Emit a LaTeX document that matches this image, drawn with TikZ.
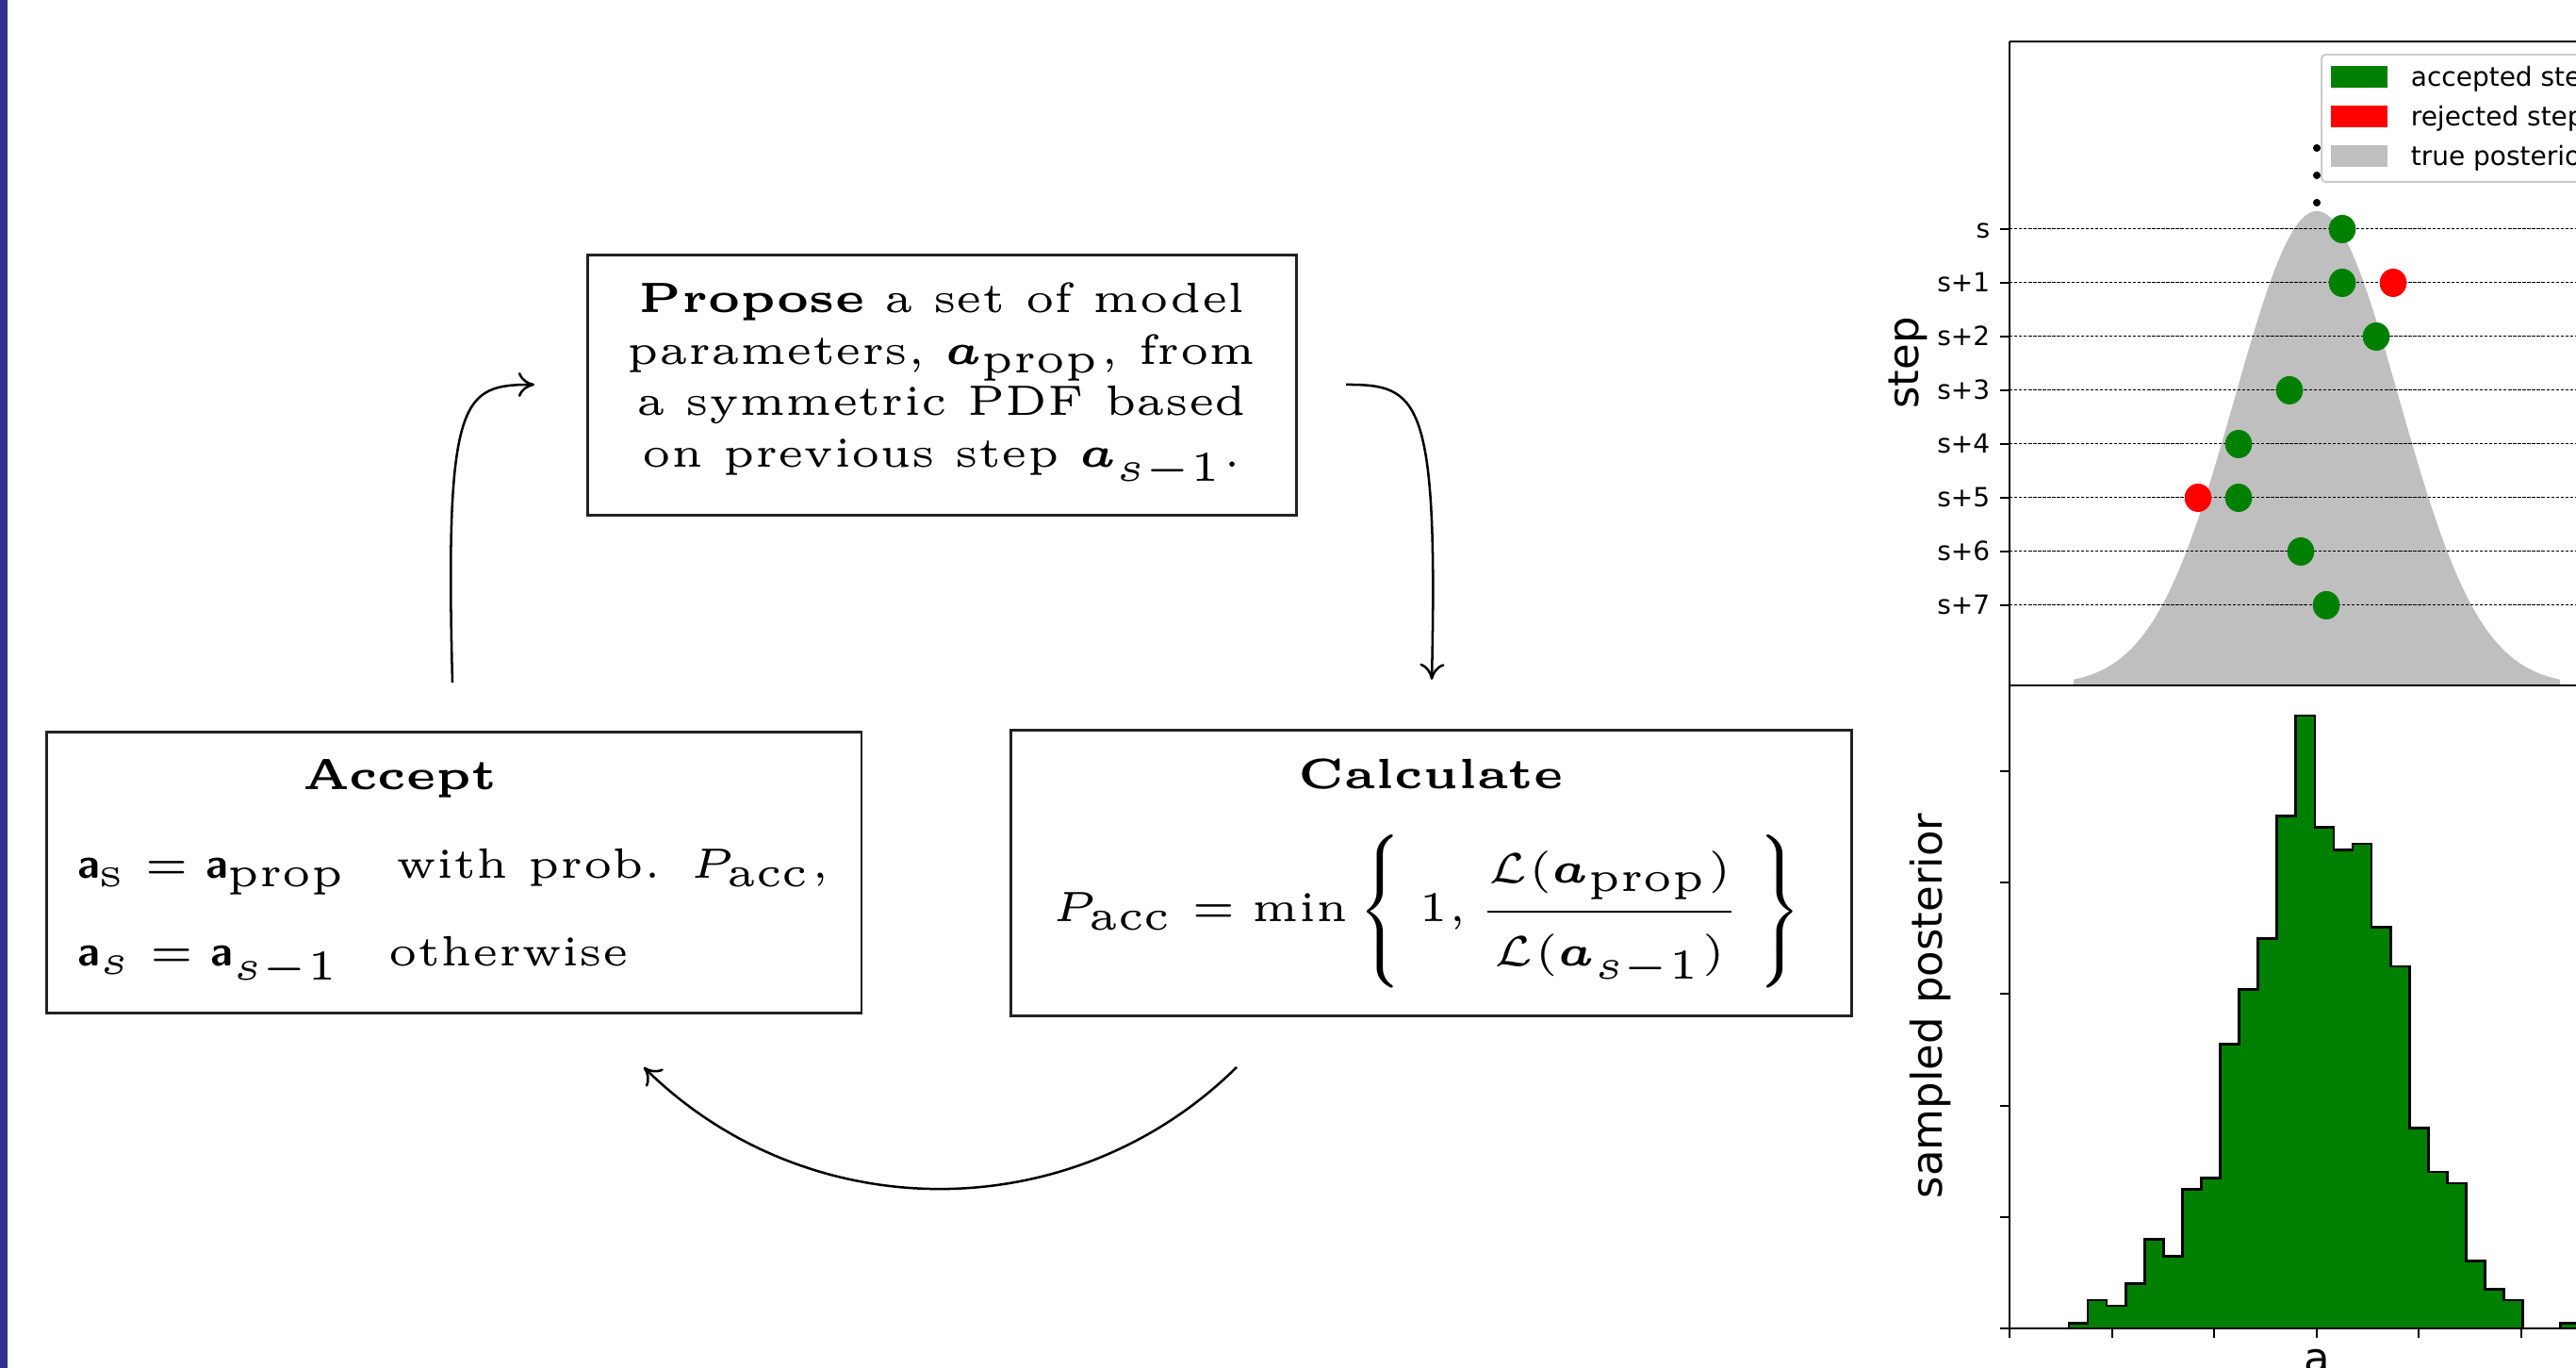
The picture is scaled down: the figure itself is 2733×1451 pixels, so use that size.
\documentclass[tikz,border=0pt]{standalone}
\usepackage{amsmath}
\usepackage{fontspec}
\newfontfamily\plotfont{DejaVu Sans}
\usetikzlibrary{arrows.meta}
\definecolor{barblue}{RGB}{46,49,146}
\definecolor{mplgreen}{HTML}{008000}
\definecolor{mplred}{HTML}{FF0000}
\definecolor{silvergray}{HTML}{BFBFBF}
\definecolor{legframe}{HTML}{CCCCCC}
\definecolor{boxline}{HTML}{222222}
\newcommand{\sfa}{\text{\sffamily\bfseries a}}
\tikzset{
  stage/.style={draw=boxline, line width=0.33pt, inner sep=0pt, outer sep=0pt},
  lmtext/.style={inner sep=0pt, font=\fontsize{5}{6}\selectfont},
  flow/.style={draw=black, line width=0.28pt, -{To[length=1.9pt,width=2.9pt]}},
  spine/.style={line width=0.22pt},
  tickmark/.style={line width=0.22pt},
  gridline/.style={line width=0.11pt, dash pattern=on 0.37pt off 0.19pt},
  ticklabel/.style={inner sep=0pt, font=\plotfont\fontsize{3.11}{3.7}\selectfont},
  axislabel/.style={inner sep=0pt, font=\plotfont\fontsize{5}{6}\selectfont},
  accdot/.style={fill=mplgreen},
  rejdot/.style={fill=mplred},
}
\begin{document}
\begin{tikzpicture}[x=0.11111pt, y=-0.11111pt]
\useasboundingbox (0,0) rectangle (2733,1451);
\fill[white] (0,0) rectangle (2733,1451);
\clip (0,0) rectangle (2733,1451);
\fill[barblue] (0,0) rectangle (8,1451);

% ---------------- boxes ----------------
\node[stage, minimum width=83.61pt, minimum height=30.63pt] (propose) at (999.25,408.85) {};
\node[stage, minimum width=96.11pt, minimum height=33.11pt] (accept) at (481.5,926) {};
\node[stage, minimum width=99.11pt, minimum height=33.67pt] (calc) at (1518,926.5) {};

\node[lmtext, anchor=base] (prop1) at (999,331.7) {\textbf{Propose} a set of model};
\node[lmtext, anchor=base] (prop2) at (999,386.7) {parameters, $\boldsymbol{a}_\mathrm{prop}$, from};
\node[lmtext, anchor=base] (prop3) at (999,440.7) {a symmetric PDF based};
\node[lmtext, anchor=base] (prop4) at (999,496) {on previous step $\boldsymbol{a}_{s-1}$.};

\node[lmtext, anchor=base] (acctitle) at (424.5,838) {\textbf{Accept}};
\node[lmtext, anchor=base west] (acc1) at (80.5,931.7) {$\sfa_\mathrm{s} = \sfa_\mathrm{prop}$\ \ \hspace{1pt}with prob.\ \ \hspace{-1.33pt}$P_\mathrm{acc}$,};
\node[lmtext, anchor=base west] (acc2) at (80.5,1025) {$\sfa_s = \sfa_{s-1}$\ \ \hspace{1pt}otherwise};

\node[lmtext, anchor=base] (calctitle) at (1518,836.7) {\textbf{Calculate}};
\node[lmtext, anchor=base] (calcformula) at (1514,978) {$\displaystyle P_\mathrm{acc} = \min\left\{\;1,\frac{\mathcal{L}(\boldsymbol{a}_\mathrm{prop})}{\mathcal{L}(\boldsymbol{a}_{s-1})}\vrule height10.25pt depth7.75pt width0pt\;\right\}$};

% ---------------- arrows ----------------
\coordinate (l0) at (480,724);  \coordinate (l1) at (567,408);
\coordinate (r0) at (1428,408); \coordinate (r1) at (1519,721);
\coordinate (b0) at (1312,1132); \coordinate (b1) at (683,1132);
\draw[flow] (l0) .. controls (472,420) and (490,408) .. (l1);
\draw[flow] (r0) .. controls (1505,408) and (1526,420) .. (r1);
\draw[flow] (b0) .. controls (1137.6,1303.9) and (857.4,1303.9) .. (b1);

% ---------------- top panel ----------------
\fill[silvergray] plot[domain=-2.966:2.966, samples=160] ({2458+87*\x}, {727-503*exp(-0.5*\x*\x)}) -- (2716,727) -- (2200,727) -- cycle;

\foreach \k/\lab in {0/s,1/s+1,2/s+2,3/s+3,4/s+4,5/s+5,6/s+6,7/s+7}{
  \draw[gridline] (2132,{243+57*\k}) -- (2733,{243+57*\k});
  \draw[tickmark] (2122,{243+57*\k}) -- (2132,{243+57*\k});
  \node[ticklabel, anchor=base east] (ytick\k) at (2113,{253+57*\k}) {\lab};
}

\fill (2458,157) circle[radius=0.45pt];
\fill (2458,186) circle[radius=0.45pt];
\fill (2458,215) circle[radius=0.45pt];

\foreach \px/\py in {2485/243,2485/300,2521/357,2429/414,2375/471,2375/528,2441/585,2468/642}{
  \fill[accdot] (\px,\py) ellipse[x radius=1.59pt, y radius=1.67pt];
}
\foreach \px/\py in {2539/300,2332/528}{
  \fill[rejdot] (\px,\py) ellipse[x radius=1.59pt, y radius=1.67pt];
}

% legend
\draw[legframe, fill=white, line width=0.22pt, rounded corners=0.45pt] (2463,58) rectangle (2800,193);
\fill[mplgreen] (2473,70) rectangle (2533,93);
\fill[mplred] (2473,112) rectangle (2533,135);
\fill[silvergray] (2473,154) rectangle (2533,177);
\node[ticklabel, anchor=base west] (leg1) at (2556,92) {accepted steps};
\node[ticklabel, anchor=base west] (leg2) at (2556,134) {rejected steps};
\node[ticklabel, anchor=base west] (leg3) at (2556,176) {true posterior};

% ---------------- bottom panel ----------------
\filldraw[fill=mplgreen, draw=black, line width=0.3pt]
 (2195.0,1409) -- (2195.0,1403.3) -- (2215.1,1403.3) -- (2215.1,1378.9) -- (2235.1,1378.9) -- (2235.1,1385.1) -- (2255.2,1385.1) -- (2255.2,1361.7) -- (2275.3,1361.7) -- (2275.3,1314.3) -- (2295.4,1314.3) -- (2295.4,1332.5) -- (2315.4,1332.5) -- (2315.4,1261.7) -- (2335.5,1261.7) -- (2335.5,1249.7) -- (2355.6,1249.7) -- (2355.6,1107.7) -- (2375.6,1107.7) -- (2375.6,1049.4) -- (2395.7,1049.4) -- (2395.7,995.8) -- (2415.8,995.8) -- (2415.8,865.7) -- (2435.8,865.7) -- (2435.8,759.1) -- (2455.9,759.1) -- (2455.9,877.2) -- (2476.0,877.2) -- (2476.0,901.6) -- (2496.1,901.6) -- (2496.1,894.9) -- (2516.1,894.9) -- (2516.1,983.8) -- (2536.2,983.8) -- (2536.2,1025.0) -- (2556.3,1025.0) -- (2556.3,1196.2) -- (2576.3,1196.2) -- (2576.3,1243.0) -- (2596.4,1243.0) -- (2596.4,1255.0) -- (2616.5,1255.0) -- (2616.5,1337.7) -- (2636.5,1337.7) -- (2636.5,1367.4) -- (2656.6,1367.4) -- (2656.6,1378.9) -- (2676.7,1378.9) -- (2676.7,1409) -- (2716.8,1409) -- (2716.8,1403.3) -- (2736.9,1403.3) -- (2736.9,1409) -- cycle;

% spines
\draw[spine] (2132,44) -- (2740,44);
\draw[spine] (2132,44) -- (2132,1409);
\draw[spine] (2132,727) -- (2740,727);
\draw[spine] (2132,1409) -- (2740,1409);

\foreach \yy in {1409,1291,1173,1054,936,818}{
  \draw[tickmark] (2122,\yy) -- (2132,\yy);
}
\foreach \xx in {2132,2240.6,2349.2,2457.8,2566.4,2675}{
  \draw[tickmark] (\xx,1409) -- (\xx,1419);
}

\node[axislabel, rotate=90] (steplabel) at (2024,385) {step};
\node[axislabel, rotate=90] (postlabel) at (2048,1067) {sampled posterior};
\node[axislabel, anchor=base] (alabel) at (2458,1457) {a};
\end{tikzpicture}
\end{document}
